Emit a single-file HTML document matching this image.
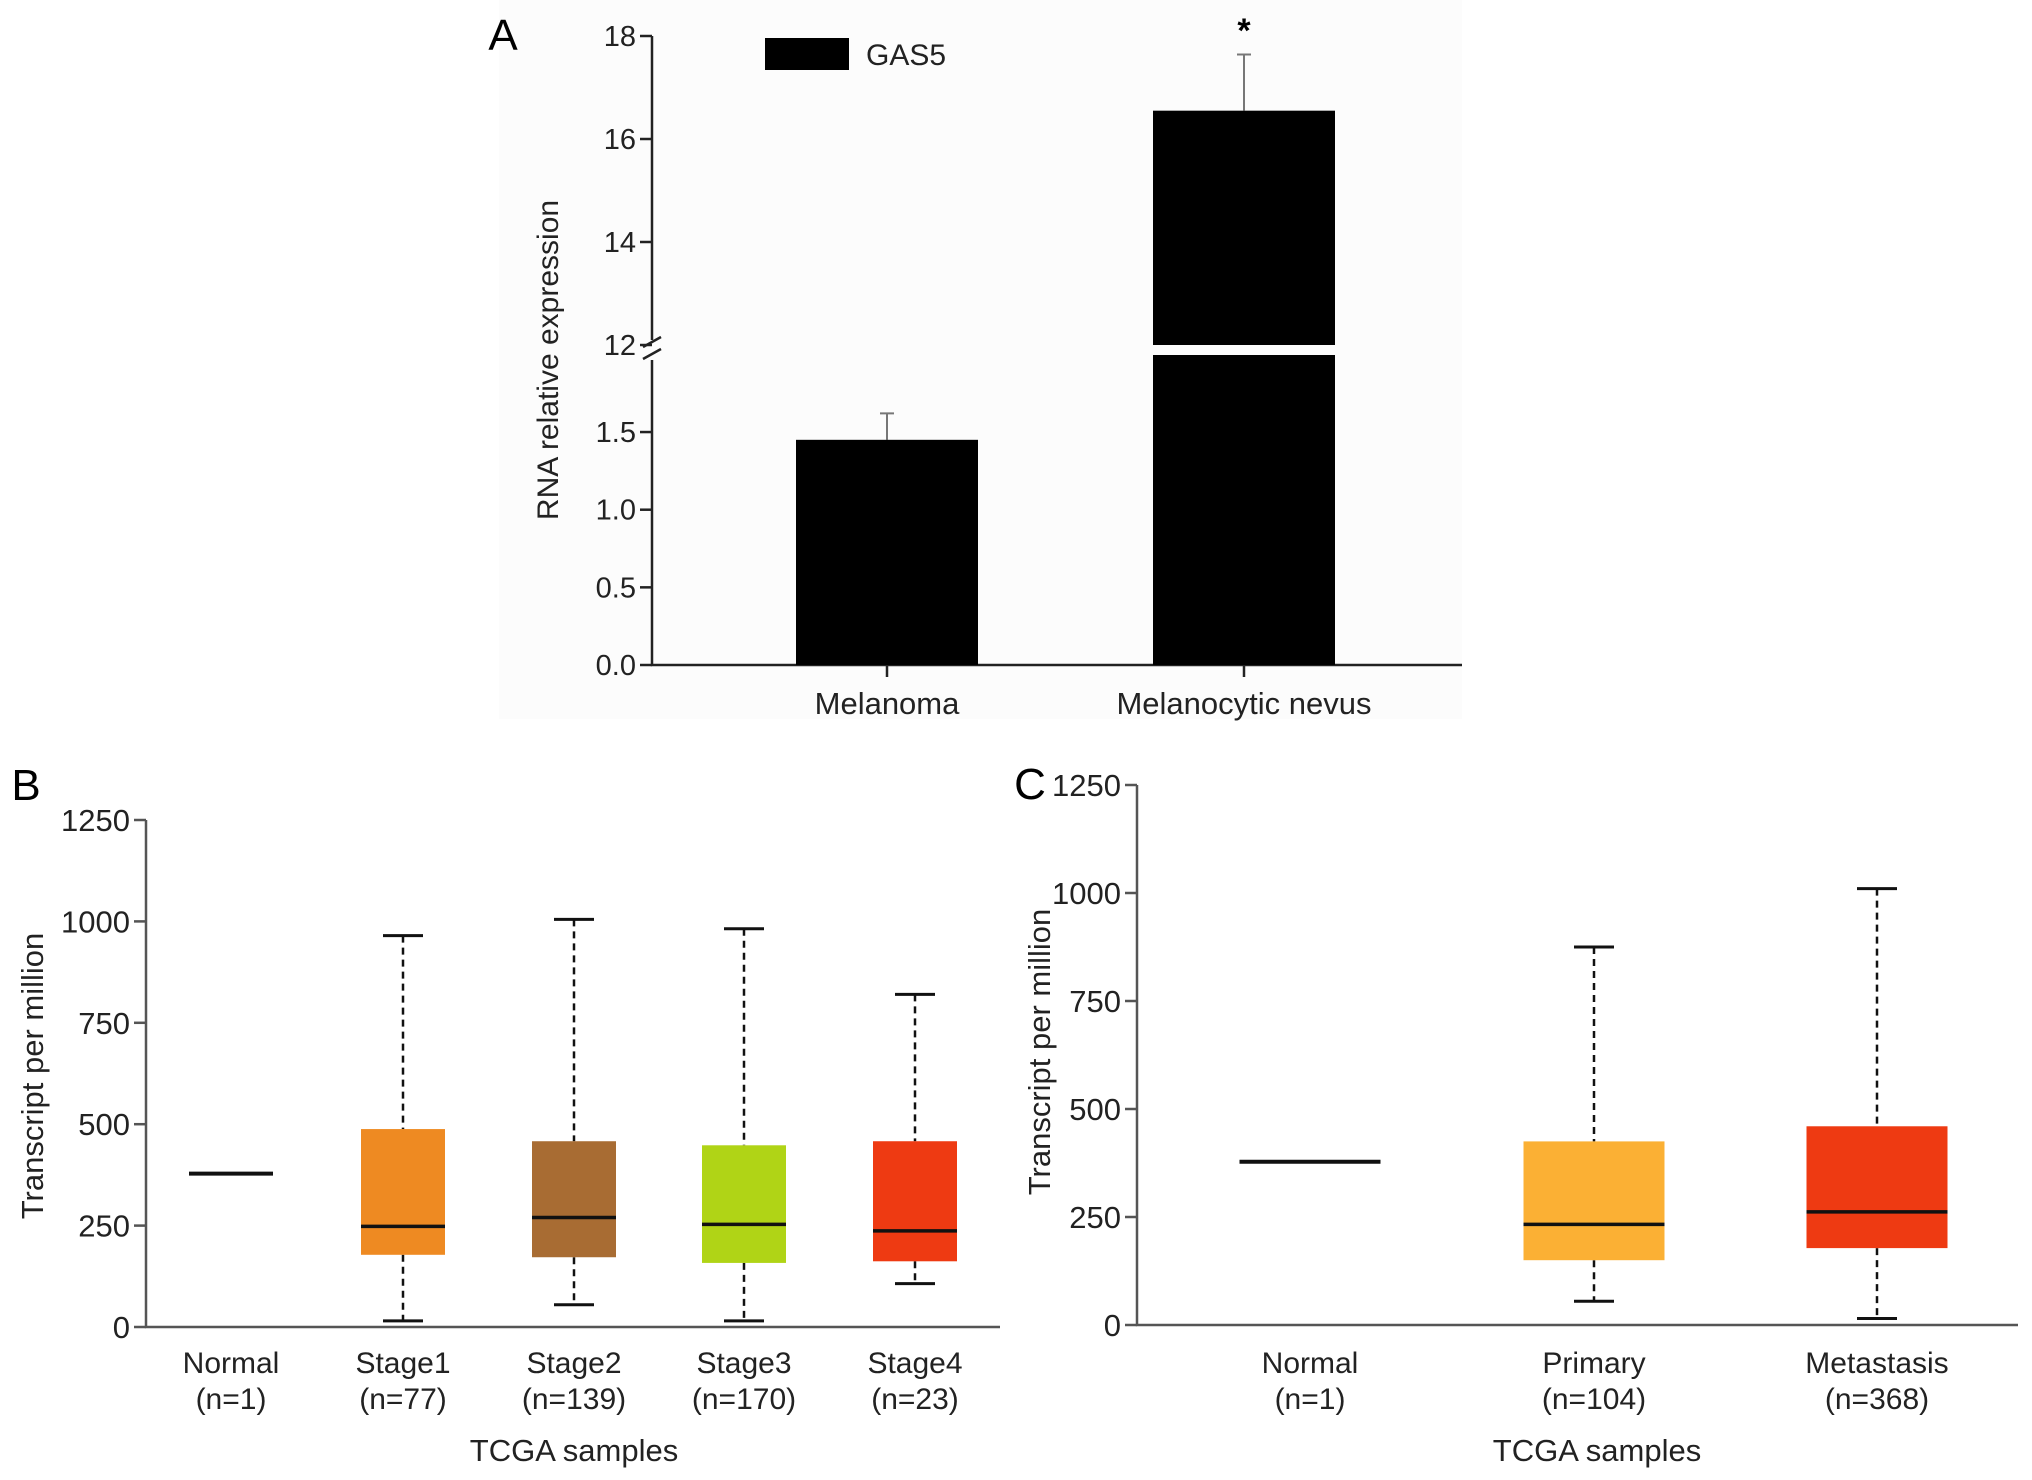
<!DOCTYPE html>
<html><head><meta charset="utf-8"><style>
html,body{margin:0;padding:0;background:#fff;}
svg{display:block;font-family:"Liberation Sans",Arial,sans-serif;}
</style></head><body>
<svg id="fig" width="2032" height="1480" viewBox="0 0 2032 1480" xmlns="http://www.w3.org/2000/svg">
<rect x="499" y="0" width="963" height="719" fill="#fcfcfc"/>
<g id="pa"></g>
<g id="pb"></g>
<g id="pc"></g>
</svg>
<script>
// Panel A data
const aCategories = ["Melanoma", "Melanocytic nevus"];
const aValues = [1.45, 16.55];
const aErrors = [0.17, 1.09];
const aLowerTicks = ["0.0", "0.5", "1.0", "1.5"];
const aUpperTicks = ["12", "14", "16", "18"];
// Panel B data
const bCategories = ["Normal", "Stage1", "Stage2", "Stage3", "Stage4"];
const bCounts = ["(n=1)", "(n=77)", "(n=139)", "(n=170)", "(n=23)"];
const bMax = [378, 965, 1005, 982, 820];
const bQ3 = [378, 488, 458, 448, 458];
const bMedian = [378, 248, 270, 253, 237];
const bQ1 = [378, 178, 172, 158, 162];
const bMin = [378, 15, 55, 15, 107];
const bColors = ["#000", "#ee8a22", "#a86c33", "#b0d416", "#ee3a12"];
// Panel C data
const cCategories = ["Normal", "Primary", "Metastasis"];
const cCounts = ["(n=1)", "(n=104)", "(n=368)"];
const cMax = [378, 875, 1010];
const cQ3 = [378, 425, 460];
const cMedian = [378, 233, 262];
const cQ1 = [378, 150, 178];
const cMin = [378, 55, 15];
const cColors = ["#000", "#fbb034", "#ee3a12"];
const tpmTicks = [0, 250, 500, 750, 1000, 1250];

const NS = "http://www.w3.org/2000/svg";
function mk(parent, tag, attrs, text) {
  const e = document.createElementNS(NS, tag);
  for (const k in attrs) e.setAttribute(k, attrs[k]);
  if (text !== undefined) e.textContent = text;
  parent.appendChild(e);
  return e;
}

// ---------- Panel A ----------
(function () {
  const g = document.getElementById("pa");
  const ax = 652, y0 = 665;
  const yLow = v => 665 - v * 155.3;
  const yUp = v => 345 - (v - 12) * 51.5;
  const yA = v => v <= 2 ? yLow(v) : yUp(v);
  const xCenters = [887, 1244];
  const bw = 182;
  let t;
  t = mk(g, "text", {x: 503, y: 50, "font-size": 44, "text-anchor": "middle"}, "A");
  
  
  let l = mk(g, "path", {d: `M${ax},36 L${ax},340 M${ax},360 L${ax},${y0} L1462,${y0}`, stroke: "#222", "stroke-width": 2.5, fill: "none"});
  
  
  l = mk(g, "path", {d: `M${ax-9},347 L${ax+9},337 M${ax-9},359 L${ax+9},349`, stroke: "#222", "stroke-width": 2.5});
  
  
  aLowerTicks.forEach(s => {
    const y = yLow(parseFloat(s));
    mk(g, "line", {x1: ax - 12, x2: ax, y1: y, y2: y, stroke: "#222", "stroke-width": 2.5});
    t = mk(g, "text", {x: ax - 16, y: y + 10, "font-size": 29, "text-anchor": "end", fill: "#222"}, s);
    
    
  });
  aUpperTicks.forEach(s => {
    const y = yUp(parseFloat(s));
    mk(g, "line", {x1: ax - 12, x2: ax, y1: y, y2: y, stroke: "#222", "stroke-width": 2.5});
    t = mk(g, "text", {x: ax - 16, y: y + 10, "font-size": 29, "text-anchor": "end", fill: "#222"}, s);
    
    
  });
  t = mk(g, "text", {x: 0, y: 0, "font-size": 30, "text-anchor": "middle", fill: "#222", transform: "translate(558,360) rotate(-90)"}, "RNA relative expression");
  
  
  aCategories.forEach((c, i) => {
    const cx = xCenters[i], v = aValues[i];
    mk(g, "line", {x1: cx, x2: cx, y1: y0, y2: y0 + 12, stroke: "#222", "stroke-width": 2.5});
    const et = yA(v + aErrors[i]);
    const eb = mk(g, "path", {d: `M${cx},${yA(v)} L${cx},${et} M${cx-7},${et} L${cx+7},${et}`, stroke: "#777", "stroke-width": 2});
    
    
    if (v <= 2) {
      const r = mk(g, "rect", {x: cx - bw / 2, y: yLow(v), width: bw, height: y0 - yLow(v), fill: "#000"});
      
      
    } else {
      const r1 = mk(g, "rect", {x: cx - bw / 2, y: 355, width: bw, height: y0 - 355, fill: "#000"});
      
      
      const r2 = mk(g, "rect", {x: cx - bw / 2, y: yUp(v), width: bw, height: 345 - yUp(v), fill: "#000"});
      
      
      t = mk(g, "text", {x: cx, y: 42, "font-size": 34, "text-anchor": "middle", "font-weight": "bold"}, "*");
      
      
    }
    t = mk(g, "text", {x: cx, y: 714, "font-size": 31, "text-anchor": "middle", fill: "#222"}, c);
    
    
  });
  const lr = mk(g, "rect", {x: 765, y: 38, width: 84, height: 32, fill: "#000"});
  
  
  t = mk(g, "text", {x: 866, y: 65, "font-size": 30, fill: "#222"}, "GAS5");
  
  
})();

// ---------- Box panels ----------
function boxPanel(id, o) {
  const g = document.getElementById(id);
  const y = v => o.y0 - v / 1250 * (o.y0 - o.y1250);
  let t = mk(g, "text", {x: o.letterX, y: o.letterY, "font-size": 44, "text-anchor": "middle"}, o.letter);
  
  
  const ax = mk(g, "path", {d: `M${o.ax},${o.y1250} L${o.ax},${o.y0} L${o.xEnd},${o.y0}`, stroke: "#555", "stroke-width": 2.5, fill: "none"});
  
  
  tpmTicks.forEach(v => {
    mk(g, "line", {x1: o.ax - 12, x2: o.ax, y1: y(v), y2: y(v), stroke: "#555", "stroke-width": 2.5});
    t = mk(g, "text", {x: o.ax - 16, y: y(v) + 11, "font-size": 31, "text-anchor": "end", fill: "#222"}, v);
    
    
  });
  t = mk(g, "text", {x: 0, y: 0, "font-size": 31, "text-anchor": "middle", fill: "#222", transform: `translate(${o.titleX},${o.titleY}) rotate(-90)`}, "Transcript per million");
  
  
  o.cats.forEach((c, i) => {
    const cx = o.xs[i], w = o.bw;
    if (i === 0) {
      const nl = mk(g, "line", {x1: cx - w / 2, x2: cx + w / 2, y1: y(o.med[i]), y2: y(o.med[i]), stroke: "#111", "stroke-width": 4});
      
      
    } else {
      const wh = mk(g, "path", {d: `M${cx},${y(o.max[i])} L${cx},${y(o.q3[i])} M${cx},${y(o.q1[i])} L${cx},${y(o.min[i])}`, stroke: "#111", "stroke-width": 2.5, "stroke-dasharray": "7,5"});
      
      
      const cp = mk(g, "path", {d: `M${cx-20},${y(o.max[i])} L${cx+20},${y(o.max[i])} M${cx-20},${y(o.min[i])} L${cx+20},${y(o.min[i])}`, stroke: "#111", "stroke-width": 3});
      
      
      const bx = mk(g, "rect", {x: cx - w / 2, y: y(o.q3[i]), width: w, height: y(o.q1[i]) - y(o.q3[i]), fill: o.colors[i]});
      
      
      const md = mk(g, "line", {x1: cx - w / 2, x2: cx + w / 2, y1: y(o.med[i]), y2: y(o.med[i]), stroke: "#111", "stroke-width": 3.5});
      
      
    }
    t = mk(g, "text", {x: cx, y: 1373, "font-size": 30, "text-anchor": "middle", fill: "#222"}, c);
    
    
    t = mk(g, "text", {x: cx, y: 1409, "font-size": 30, "text-anchor": "middle", fill: "#222"}, o.counts[i]);
    
    
  });
  t = mk(g, "text", {x: o.titleXc, y: 1461, "font-size": 31, "text-anchor": "middle", fill: "#222"}, "TCGA samples");
  
  
}
boxPanel("pb", {letter: "B", letterX: 26, letterY: 800, ax: 146, y0: 1327, y1250: 820, xEnd: 1000,
  titleX: 43, titleY: 1076, titleXc: 574, bw: 84, xs: [231, 403, 574, 744, 915],
  cats: bCategories, counts: bCounts, max: bMax, q3: bQ3, med: bMedian, q1: bQ1, min: bMin, colors: bColors});
boxPanel("pc", {letter: "C", letterX: 1030, letterY: 799, ax: 1137, y0: 1325, y1250: 785, xEnd: 2018,
  titleX: 1050, titleY: 1052, titleXc: 1597, bw: 141, xs: [1310, 1594, 1877],
  cats: cCategories, counts: cCounts, max: cMax, q3: cQ3, med: cMedian, q1: cQ1, min: cMin, colors: cColors});
</script>
</body></html>
